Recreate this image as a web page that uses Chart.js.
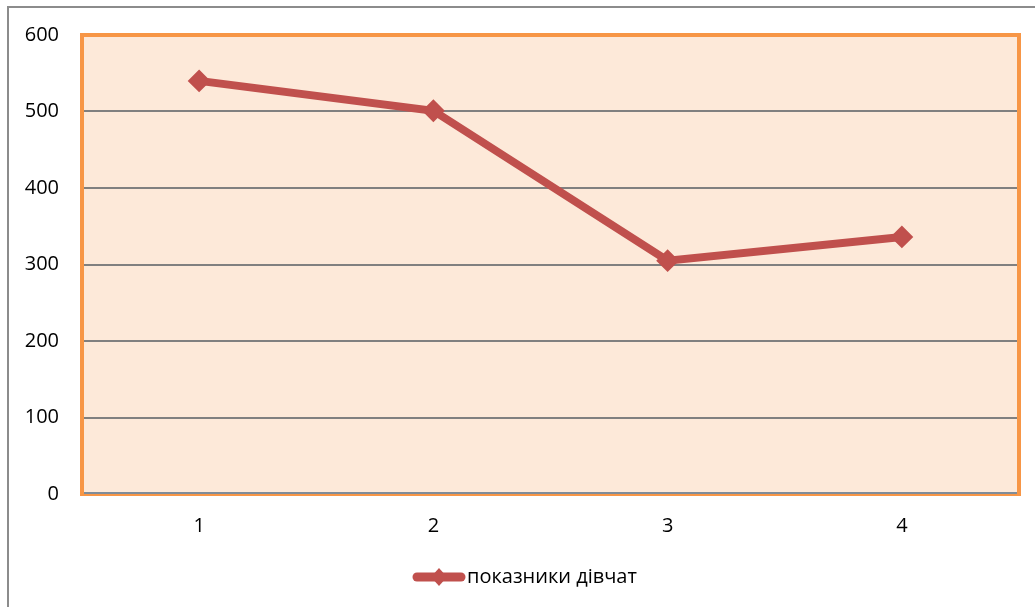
<!DOCTYPE html>
<html>
<head>
<meta charset="utf-8">
<script src="https://cdn.jsdelivr.net/npm/chart.js@4/dist/chart.umd.min.js"></script>
<style>
  html, body { margin: 0; padding: 0; background: #fff; }
  #wrap { width: 1035px; height: 607px; position: relative; }
</style>
</head>
<body>
<div id="wrap"><canvas id="my-chart"></canvas></div>
<script>
'use strict';

//data
let categories = ['1', '2', '3', '4'];
let girlsValues = [540, 501, 305, 336];
let seriesName = 'показники дівчат';
let yTicks = [0, 100, 200, 300, 400, 500, 600];

const ctx = document.getElementById('my-chart').getContext('2d');
const lineColor = '#C0504D';
const fontFamily = '"Open Sans", "Liberation Sans", sans-serif';

//plot background, orange frame, outer border and legend
const decor = {
  id: 'decor',
  beforeDraw(chart) {
    let c = chart.ctx;
    let a = chart.chartArea;
    c.save();
    c.fillStyle = '#fff';
    c.fillRect(0, 0, chart.width, chart.height);
    c.fillStyle = '#FDE9D9';
    c.fillRect(a.left, a.top, a.right - a.left, a.bottom - a.top);
    //outer border
    c.strokeStyle = '#8C8C8C';
    c.lineWidth = 2;
    c.beginPath();
    c.moveTo(8, chart.height);
    c.lineTo(8, 7);
    c.lineTo(chart.width, 7);
    c.stroke();
    c.restore();
  },
  beforeDatasetsDraw(chart) {
    let c = chart.ctx;
    let a = chart.chartArea;
    c.save();
    c.strokeStyle = '#F79646';
    c.lineWidth = 4;
    c.strokeRect(a.left, a.top, a.right - a.left, a.bottom - a.top);
    c.strokeStyle = '#7F8C99';
    c.lineWidth = 2;
    c.beginPath();
    c.moveTo(a.left + 2, a.bottom - 1);
    c.lineTo(a.right - 2, a.bottom - 1);
    c.stroke();
    c.restore();
  },
  afterDraw(chart) {
    let c = chart.ctx;
    let y = 577;
    c.save();
    c.strokeStyle = lineColor;
    c.lineWidth = 9;
    c.lineCap = 'round';
    c.beginPath();
    c.moveTo(417, y);
    c.lineTo(461, y);
    c.stroke();
    c.fillStyle = lineColor;
    c.beginPath();
    c.moveTo(439 - 8, y);
    c.lineTo(439, y - 9);
    c.lineTo(439 + 8, y);
    c.lineTo(439, y + 9);
    c.closePath();
    c.fill();
    c.fillStyle = '#000';
    c.font = '20px ' + fontFamily;
    c.textBaseline = 'middle';
    c.fillText(seriesName, 467, y);
    c.restore();
  }
};

const myObj = {
  type: 'line',
  data: {
    labels: categories,
    datasets: [{
      label: seriesName,
      data: girlsValues,
      borderColor: lineColor,
      backgroundColor: lineColor,
      borderWidth: 8,
      pointStyle: 'rectRot',
      pointRadius: 10,
      pointBorderWidth: 2,
      pointBorderColor: lineColor,
      pointBackgroundColor: lineColor,
      tension: 0
    }]
  },
  options: {
    responsive: false,
    animation: false,
    devicePixelRatio: 1,
    layout: {
      padding: { left: 0, top: 34, right: 16, bottom: 0 }
    },
    plugins: {
      legend: { display: false },
      tooltip: { enabled: false }
    },
    scales: {
      x: {
        offset: true,
        grid: { display: false, drawTicks: false },
        border: { display: false },
        ticks: {
          color: '#000',
          padding: 20,
          font: { family: fontFamily, size: 20 }
        },
        afterFit(scale) { scale.height = 113; }
      },
      y: {
        min: 0,
        max: 600,
        afterBuildTicks(scale) {
          scale.ticks = yTicks.map(v => ({ value: v }));
        },
        grid: {
          color: '#808080',
          lineWidth: 2,
          drawTicks: false
        },
        border: { display: false },
        ticks: {
          color: '#000',
          padding: 23,
          font: { family: fontFamily, size: 20 }
        },
        afterFit(scale) { scale.width = 82; }
      }
    }
  },
  plugins: [decor]
};

const canvas = document.getElementById('my-chart');
canvas.width = 1035;
canvas.height = 607;
const myChart = new Chart(ctx, myObj);
</script>
</body>
</html>
